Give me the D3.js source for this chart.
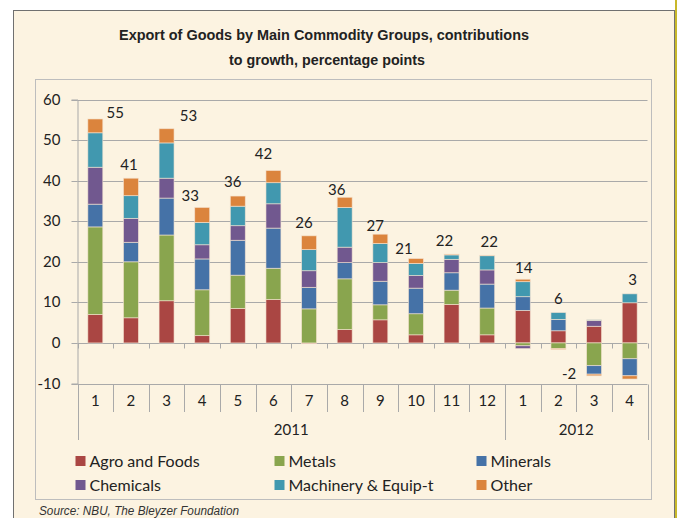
<!DOCTYPE html>
<html>
<head>
<meta charset="utf-8">
<script src="https://cdn.jsdelivr.net/npm/d3@7"></script>
<style>
  body { margin: 0; background: #fff; }
  svg { display: block; }
</style>
</head>
<body>
<svg id="chart" width="677" height="518"></svg>
<script>
// month labels (two-level axis: month / year)
const months = ["1", "2", "3", "4", "5", "6", "7", "8", "9", "10", "11", "12", "1", "2", "3", "4"]
const yearLabels = ["2011", "2012"]
const yearSpans = [12, 4]

// contributions to growth, percentage points
const agro = [7.0, 6.2, 10.4, 1.8, 8.5, 10.7, -0.2, 3.3, 5.7, 2.0, 9.5, 2.0, 8.0, 3.0, 4.1, 9.9]
const metals = [21.6, 13.8, 16.2, 11.3, 8.2, 7.7, 8.4, 12.5, 3.7, 5.2, 3.5, 6.6, -0.7, -1.4, -5.6, -3.9]
const minerals = [5.6, 4.8, 9.1, 7.6, 8.6, 9.9, 5.3, 4.0, 5.8, 6.3, 4.3, 5.9, 3.4, 2.8, -2.1, -4.2]
const chemicals = [9.1, 5.9, 4.9, 3.5, 3.6, 6.0, 4.1, 3.8, 4.6, 3.1, 3.3, 3.5, -0.7, 0, 1.4, 0]
const machinery = [8.5, 5.6, 8.7, 5.5, 4.8, 5.2, 5.2, 9.8, 4.7, 3.0, 1.1, 3.5, 3.7, 1.7, 0.2, 2.2]
const other = [3.4, 4.3, 3.5, 3.7, 2.5, 3.0, 3.4, 2.5, 2.3, 1.2, 0.2, 0.1, 0.6, -0.2, -0.4, -0.8]
const totals = [55, 41, 53, 33, 36, 42, 26, 36, 27, 21, 22, 22, 14, 6, -2, 3]

const seriesNames = ["Agro and Foods", "Metals", "Minerals", "Chemicals", "Machinery & Equip-t", "Other"]
const seriesValues = [agro, metals, minerals, chemicals, machinery, other]
const yTicks = [-10, 0, 10, 20, 30, 40, 50, 60]

const colors = ["#AA4643", "#89A54E", "#4572A7", "#71588F", "#4198AF", "#DB843D"]
const font = "Lato, 'Open Sans', sans-serif"
const narrow = "'Liberation Sans Narrow', 'Arial Narrow', 'Liberation Sans', sans-serif"

// label nudges [dx, dy] from the end of each stack (the source placed them by hand)
const labelNudge = [[20, -6], [-2, -13], [22, -13], [-12, -12], [-5, -14], [-10, -17], [-5, -13], [-8, -8],
  [-5, -8], [-12, -10], [-7, -13], [2, -14], [1, -11], [0, -14], [-25, -2], [3, -14]]

const svg = d3.select("#chart")

// page frame
svg.append("rect")
  .attr("x", 13.5).attr("y", 10.5)
  .attr("width", 661).attr("height", 540)
  .attr("fill", "#FCF3E1")
  .attr("stroke", "#707070")
svg.append("line")
  .attr("x1", 676).attr("x2", 676).attr("y1", 0).attr("y2", 518)
  .attr("stroke", "#C8B82A").attr("stroke-width", 2)

// title
svg.append("text")
  .attr("x", 324).attr("y", 40)
  .attr("text-anchor", "middle")
  .attr("font-family", narrow).attr("font-weight", "bold").attr("font-size", 15.5)
  .attr("fill", "#222")
  .attr("textLength", 410).attr("lengthAdjust", "spacingAndGlyphs")
  .text("Export of Goods by Main Commodity Groups, contributions")
svg.append("text")
  .attr("x", 327).attr("y", 65)
  .attr("text-anchor", "middle")
  .attr("font-family", narrow).attr("font-weight", "bold").attr("font-size", 15.5)
  .attr("fill", "#222")
  .attr("textLength", 196).attr("lengthAdjust", "spacingAndGlyphs")
  .text("to growth, percentage points")

// chart area box
svg.append("rect")
  .attr("x", 35.5).attr("y", 79.5)
  .attr("width", 616).attr("height", 420)
  .attr("fill", "none")
  .attr("stroke", "#BDBDBD")

const x0 = 77.5, x1 = 647.5
const x = d3.scaleBand()
  .domain(d3.range(months.length))
  .range([x0, x1])
  .paddingInner(0.58)
  .paddingOuter(0.29)
const step = x.step()

const y = d3.scaleLinear().domain([-10, 60]).range([383.5, 99.5])

// gridlines
svg.append("g")
  .selectAll("line")
  .data(yTicks)
  .join("line")
  .attr("x1", x0).attr("x2", x1)
  .attr("y1", (d) => Math.round(y(d)) + 0.5)
  .attr("y2", (d) => Math.round(y(d)) + 0.5)
  .attr("stroke", "#A9A9A9")

// y axis
const yAxis = svg.append("g")
  .attr("transform", `translate(${x0},0)`)
  .call(d3.axisLeft(y).tickValues(yTicks).tickFormat((d) => String(d)).tickSize(6).tickPadding(11))
yAxis.select(".domain").attr("stroke", "#A9A9A9")
yAxis.selectAll(".tick line").attr("stroke", "#A9A9A9")
yAxis.selectAll(".tick text")
  .attr("font-family", font).attr("font-size", 15).attr("fill", "#222")
yAxis.selectAll(".tick").attr("transform", (d) => `translate(0,${Math.round(y(d)) + 0.5})`)

// stacked bars
const table = months.map((m, i) => {
  const row = { index: i }
  seriesNames.forEach((s, k) => { row[s] = seriesValues[k][i] })
  return row
})
const stack = d3.stack().keys(seriesNames).offset(d3.stackOffsetDiverging)(table)

svg.append("g")
  .selectAll("g")
  .data(stack)
  .join("g")
  .attr("fill", (d, k) => colors[k])
  .selectAll("rect")
  .data((d) => d.filter((p) => p[1] !== p[0]))
  .join("rect")
  .attr("x", (p) => x(p.data.index))
  .attr("width", x.bandwidth())
  .attr("y", (p) => y(Math.max(p[0], p[1])))
  .attr("height", (p) => Math.abs(y(p[0]) - y(p[1])))
  .attr("stroke", "#F6E4D2")
  .attr("stroke-opacity", 0.75)
  .attr("stroke-width", 0.8)

// zero axis with ticks between categories
const zeroY = Math.round(y(0)) + 0.5
svg.append("g")
  .selectAll("line")
  .data(d3.range(months.length + 1))
  .join("line")
  .attr("x1", (i) => Math.round(x0 + i * step) + 0.5)
  .attr("x2", (i) => Math.round(x0 + i * step) + 0.5)
  .attr("y1", zeroY).attr("y2", zeroY + 5)
  .attr("stroke", "#A9A9A9")

// total labels
const posTop = totals.map((t, i) => d3.sum(seriesValues, (s) => Math.max(0, s[i])))
const negBottom = totals.map((t, i) => d3.sum(seriesValues, (s) => Math.min(0, s[i])))
svg.append("g")
  .selectAll("text")
  .data(totals)
  .join("text")
  .attr("x", (t, i) => x(i) + x.bandwidth() / 2 + labelNudge[i][0])
  .attr("y", (t, i) => y(t >= 0 ? posTop[i] : negBottom[i]) + labelNudge[i][1])
  .attr("dy", "0.35em")
  .attr("text-anchor", "middle")
  .attr("font-family", font).attr("font-size", 15).attr("fill", "#222")
  .text((t) => String(t))

// category axis: months row, years row
const axisY = Math.round(y(-10)) + 0.5
const yearStarts = yearSpans.map((s, k) => d3.sum(yearSpans.slice(0, k)))
const yearEdges = new Set([...yearStarts, months.length])
svg.append("g")
  .selectAll("line")
  .data(d3.range(months.length + 1))
  .join("line")
  .attr("x1", (i) => Math.round(x0 + i * step) + 0.5)
  .attr("x2", (i) => Math.round(x0 + i * step) + 0.5)
  .attr("y1", axisY)
  .attr("y2", (i) => yearEdges.has(i) ? 440 : 412)
  .attr("stroke", "#A9A9A9")

svg.append("g")
  .selectAll("text")
  .data(months)
  .join("text")
  .attr("x", (m, i) => x(i) + x.bandwidth() / 2)
  .attr("y", 401)
  .attr("dy", "0.35em")
  .attr("text-anchor", "middle")
  .attr("font-family", font).attr("font-size", 15).attr("fill", "#222")
  .text((m) => m)

svg.append("g")
  .selectAll("text")
  .data(yearLabels)
  .join("text")
  .attr("x", (l, k) => x0 + (yearStarts[k] + yearSpans[k] / 2) * step)
  .attr("y", 430)
  .attr("dy", "0.35em")
  .attr("text-anchor", "middle")
  .attr("font-family", font).attr("font-size", 15).attr("fill", "#222")
  .text((l) => l)

// legend
const legendCols = [75.5, 274.5, 476.5]
const legendRows = [461, 485]
const legend = svg.append("g")
  .selectAll("g")
  .data(seriesNames)
  .join("g")
  .attr("transform", (s, k) => `translate(${legendCols[k % 3]},${legendRows[Math.floor(k / 3)]})`)
legend.append("rect")
  .attr("x", 0).attr("y", -5)
  .attr("width", 10).attr("height", 10)
  .attr("fill", (s, k) => colors[k])
legend.append("text")
  .attr("x", 14).attr("y", 0)
  .attr("dy", "0.35em")
  .attr("font-family", font).attr("font-size", 16).attr("fill", "#222")
  .text((s) => s)

// source note
svg.append("text")
  .attr("x", 39).attr("y", 515)
  .attr("font-family", narrow).attr("font-style", "italic").attr("font-size", 12.5)
  .attr("fill", "#333")
  .attr("textLength", 200).attr("lengthAdjust", "spacingAndGlyphs")
  .text("Source: NBU, The Bleyzer Foundation")
</script>
</body>
</html>
